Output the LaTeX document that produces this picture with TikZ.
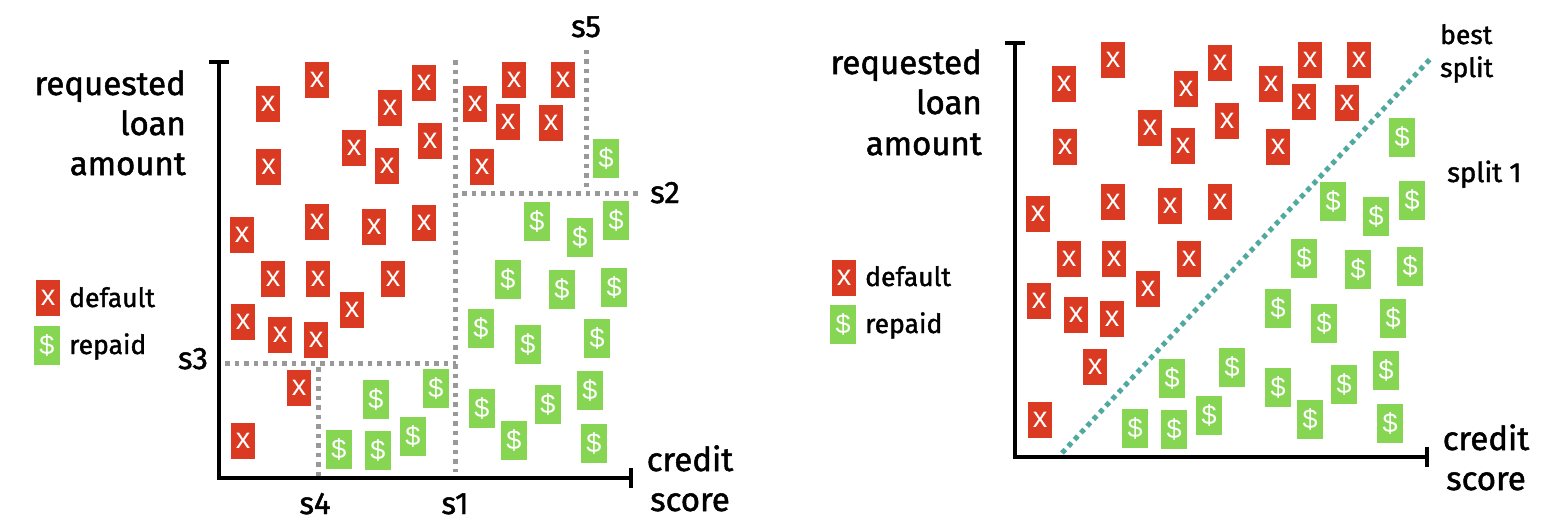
\documentclass[tikz,border=0pt]{standalone}
\usepackage{fontspec}
\setmainfont{Fira Sans}[RawFeature={embolden=1.5}]
\newfontfamily\markfont{Liberation Sans}
\definecolor{markred}{HTML}{D93A21}
\definecolor{markgreen}{HTML}{86D654}
\definecolor{splitgray}{HTML}{999999}
\definecolor{splitteal}{HTML}{4FA9A0}
\tikzset{
  redmark/.style={fill=markred,draw=none,text=white,minimum width=24.5pt,minimum height=36pt,inner sep=0pt,font=\markfont\fontsize{29}{29}\selectfont},
  greenmark/.style={fill=markgreen,draw=none,text=white,minimum width=26pt,minimum height=39pt,inner sep=0pt,font=\markfont\fontsize{27}{27}\selectfont},
  biglabel/.style={inner sep=0pt,font=\fontsize{33}{41}\selectfont,text=black},
  smalllabel/.style={inner sep=0pt,font=\fontsize{26.5}{33}\selectfont,text=black},
  noteslabel/.style={inner sep=0pt,font=\fontsize{27.5}{33}\selectfont,text=black},
  splitlabel/.style={inner sep=0pt,font=\fontsize{31}{33}\selectfont,text=black},
  axisline/.style={line width=4.2pt,draw=black,line cap=butt,line join=miter},
  graysplit/.style={line width=5pt,draw=splitgray,dash pattern=on 4.8pt off 4.7pt},
  tealsplit/.style={line width=5pt,draw=splitteal,dash pattern=on 4.8pt off 4.4pt}
}
\begin{document}
\begin{tikzpicture}[x=1pt,y=-1pt]
\useasboundingbox (0,0) rectangle (1560,520);
% left panel axes
\coordinate (lo) at (219,478);
\coordinate (ltop) at (219,62);
\coordinate (lend) at (631,478);
\coordinate (ltl) at (209,62);\coordinate (ltr) at (229,62);
\coordinate (lrt) at (631,468);\coordinate (lrb) at (631,488);
\draw[axisline] (ltop) -- (lo) -- (lend);
\draw[axisline] (ltl) -- (ltr);
\draw[axisline] (lrt) -- (lrb);
% left splits
\coordinate (s1a) at (455,60);\coordinate (s1b) at (455,472);
\coordinate (s2a) at (462,193.5);\coordinate (s2b) at (638,193.5);
\coordinate (s5a) at (586,49.5);\coordinate (s5b) at (586,191);
\coordinate (s3a) at (225,363);\coordinate (s3b) at (456,363);
\coordinate (s4a) at (318,367);\coordinate (s4b) at (318,477);
\draw[graysplit] (s1a) -- (s1b);
\draw[graysplit] (s2a) -- (s2b);
\draw[graysplit] (s5a) -- (s5b);
\draw[graysplit] (s3a) -- (s3b);
\draw[graysplit] (s4a) -- (s4b);
% right panel axes
\coordinate (ro) at (1015,457);
\coordinate (rtop) at (1015,43);
\coordinate (rend) at (1427,457);
\coordinate (rtl) at (1005,43);\coordinate (rtr) at (1025,43);
\coordinate (rrt) at (1427,447);\coordinate (rrb) at (1427,467);
\draw[axisline] (rtop) -- (ro) -- (rend);
\draw[axisline] (rtl) -- (rtr);
\draw[axisline] (rrt) -- (rrb);
\coordinate (besta) at (1062,453);\coordinate (bestb) at (1432,57);
\draw[tealsplit] (besta) -- (bestb);
% left red
\foreach \i/\x/\y in {1/268/104,2/317/80,3/390/108,4/268.5/167,5/354/148,6/387/166,7/242/235,8/317/222,9/374/227,10/424/83,11/430/141,12/475/104,13/514/80,14/563/80,15/508/122,16/551/123,17/482/167,18/424/223,19/273/279,20/318/279,21/393/279,22/352/310,23/243/322,24/280/335,25/316/340,26/299/388,27/243/441}
  \node[redmark,name=lr\i] at (\x,\y) {x};
% left green
\foreach \i/\x/\y in {1/606/158,2/537/221,3/580/237,4/616/220,5/376/399,6/339/449,7/378/450,8/413/436,9/436/388,10/508/279,11/562/289,12/614/287,13/481/328,14/528/344,15/597/338,16/482/408,17/548/404,18/590/390,19/514/440,20/594/443}
  \node[greenmark,name=lg\i] at (\x,\y) {\$};
% right red
\foreach \i/\x/\y in {1/1064/84,2/1113/60,3/1186/89,4/1065/147,5/1150/128,6/1183/146,7/1038/214,8/1113/202,9/1170/206,10/1220/63,11/1271/84,12/1310/60,13/1359/60,14/1304/102,15/1347/103,16/1227/121,17/1278/147,18/1220/202,19/1069/259,20/1114/259,21/1189/259,22/1148/289,23/1039/301,24/1076/315,25/1112/319,26/1095/367,27/1040/420}
  \node[redmark,name=rr\i] at (\x,\y) {x};
% right green
\foreach \i/\x/\y in {1/1402/137,2/1333/201,3/1376/216,4/1412/200,5/1304/258,6/1358/269,7/1410/266,8/1278/308,9/1324/323,10/1393/318,11/1232/367,12/1278/387,13/1344/384,14/1386/370,15/1310/419,16/1390/423,17/1172/378,18/1135/428,19/1174/429,20/1209/415}
  \node[greenmark,name=rg\i] at (\x,\y) {\$};
% legends
\node[redmark,name=leg1] at (48,298) {x};
\node[greenmark,name=leg2] at (47,345) {\$};
\node[redmark,name=leg3] at (844,278) {x};
\node[greenmark,name=leg4] at (843,324) {\$};
\node[smalllabel,anchor=base west,name=t1] at (69,307) {default};
\node[smalllabel,anchor=base west,name=t2] at (69,354) {repaid};
\node[smalllabel,anchor=base west,name=t3] at (865,286) {default};
\node[smalllabel,anchor=base west,name=t4] at (865,333) {repaid};
% axis labels
\node[biglabel,anchor=base east,name=a1] at (186,95) {requested};
\node[biglabel,anchor=base east,name=a2] at (186,135) {loan};
\node[biglabel,anchor=base east,name=a3] at (186,175) {amount};
\node[biglabel,anchor=base,name=a4] at (690,471) {credit};
\node[biglabel,anchor=base,name=a5] at (690,511) {score};
\node[biglabel,anchor=base east,name=b1] at (982,74) {requested};
\node[biglabel,anchor=base east,name=b2] at (982,114) {loan};
\node[biglabel,anchor=base east,name=b3] at (982,155) {amount};
\node[biglabel,anchor=base,name=b4] at (1486,450) {credit};
\node[biglabel,anchor=base,name=b5] at (1486,490) {score};
% split labels
\node[splitlabel,anchor=base,name=c1] at (586,37) {s5};
\node[splitlabel,anchor=base,name=c2] at (665,203) {s2};
\node[splitlabel,anchor=base,name=c3] at (193,369) {s3};
\node[splitlabel,anchor=base,name=c4] at (315,514) {s4};
\node[splitlabel,anchor=base,name=c5] at (455,514) {s1};
\node[smalllabel,anchor=base west,name=c6] at (1440,44) {best};
\node[smalllabel,anchor=base west,name=c7] at (1440,77) {split};
\node[noteslabel,anchor=base west,name=c8] at (1447,182) {split 1};
\end{tikzpicture}
\end{document}
